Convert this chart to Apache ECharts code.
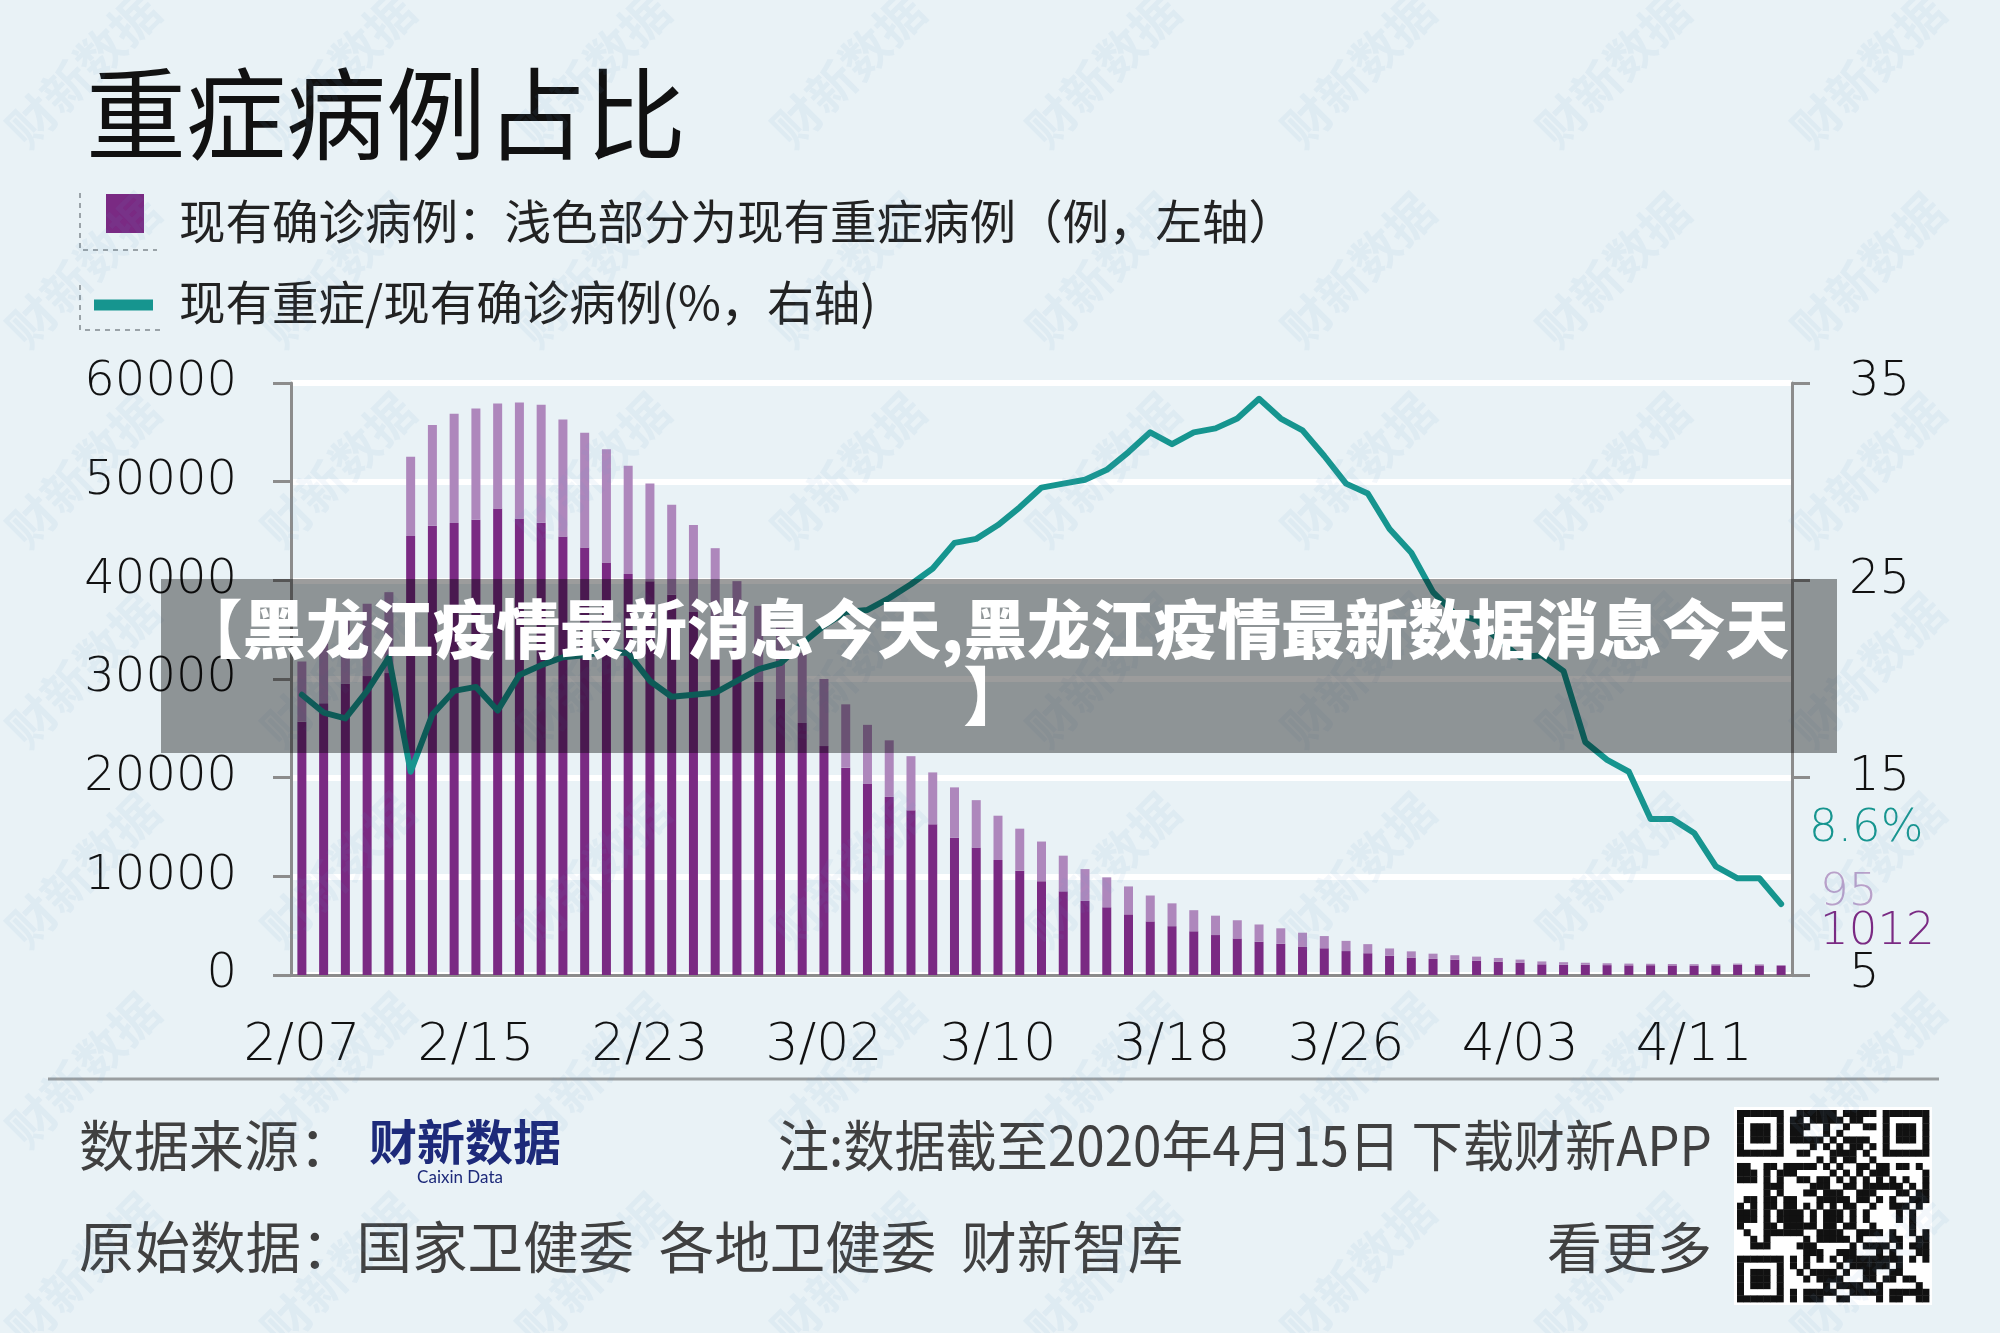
<!DOCTYPE html>
<html><head><meta charset="utf-8">
<script src="https://cdn.jsdelivr.net/npm/echarts@6/dist/echarts.min.js"></script>
<style>html,body{margin:0;padding:0;background:#e9f2f6}#c{width:2000px;height:1333px}</style>
</head><body><div id="c"></div>
<script>
// ---------- data ----------
const dates = ['2/07','2/08','2/09','2/10','2/11','2/12','2/13','2/14','2/15','2/16','2/17','2/18','2/19','2/20','2/21','2/22','2/23','2/24','2/25','2/26','2/27','2/28','2/29',
'3/01','3/02','3/03','3/04','3/05','3/06','3/07','3/08','3/09','3/10','3/11','3/12','3/13','3/14','3/15','3/16','3/17','3/18','3/19','3/20','3/21','3/22','3/23','3/24','3/25','3/26','3/27','3/28','3/29','3/30','3/31',
'4/01','4/02','4/03','4/04','4/05','4/06','4/07','4/08','4/09','4/10','4/11','4/12','4/13','4/14','4/15'];
// 现有确诊病例 (total bar height)
const confirmed = [31774,33738,35982,37626,38800,52526,55748,56873,57416,57934,
58016,57805,56303,54965,53284,51606,49824,47672,45604,43258,
39919,37414,35329,32652,30004,27433,25352,23784,22177,20533,
19016,17721,16145,14831,13526,12094,10734,9898,8976,8056,
7263,6569,6013,5549,5120,4735,4287,3947,3460,3128,
2691,2396,2161,2004,1863,1727,1562,1376,1299,1242,
1190,1156,1138,1114,1097,1089,1156,1080,1012];
// 现有重症病例 (light part)
const severe = [6101,6188,6484,7333,8204,8030,10204,11053,11272,10644,
11741,11977,11864,11633,11477,10968,9915,9126,8752,8346,
7952,7664,7365,7110,6806,6416,5952,5737,5489,5264,
5111,4794,4492,4257,4020,3610,3226,3032,2830,2622,
2314,2136,1963,1845,1749,1573,1399,1235,1034,921,
742,633,528,466,429,380,330,292,265,209,
189,177,147,144,134,114,114,107,95];
// 现有重症/现有确诊病例 (%)
const ratio = [19.2,18.3,18.0,19.4,21.1,15.3,18.2,19.4,19.6,18.4,
20.2,20.7,21.1,21.2,21.4,21.3,19.9,19.1,19.2,19.3,
19.9,20.5,20.8,21.8,22.7,23.4,23.5,24.1,24.8,25.6,
26.9,27.1,27.8,28.7,29.7,29.9,30.1,30.6,31.5,32.5,
31.9,32.5,32.7,33.2,34.2,33.2,32.6,31.3,29.9,29.4,
27.6,26.4,24.4,23.3,23.0,22.0,21.1,21.2,20.4,16.8,
15.9,15.3,12.9,12.9,12.2,10.5,9.9,9.9,8.6];
const leftTicks = [0,10000,20000,30000,40000,50000,60000];
const rightTicks = [5,15,25,35];

// ---------- styles ----------
const CJK = '"Noto Sans CJK SC","Noto Sans CJK JP",sans-serif';
const NUM = '"DejaVu Sans Light","DejaVu Sans ExtraLight","DejaVu Sans","Liberation Sans",sans-serif';
const NUMW = 200;
const AXIS = '#8c8c8c';
const DARK = '#7a2a83';
const LIGHT = '#ae87bc';
const TEAL = '#16958f';

const darkPart = confirmed.map((v,i)=>v-severe[i]);

const chart = echarts.init(document.getElementById('c'), null, {renderer:'canvas'});
const option = {
  backgroundColor:'#e9f2f6',
  animation:false,
  title:{text:'重症病例占比', left:86, top:64, padding:0,
    textStyle:{fontSize:100, fontWeight:'normal', color:'#111', fontFamily:CJK}},
  grid:{left:291, top:383, width:1501, height:592, containLabel:false},
  xAxis:{type:'category', data:dates, boundaryGap:true,
    axisLine:{lineStyle:{color:AXIS, width:3}},
    axisTick:{interval:7, length:18, lineStyle:{color:AXIS, width:3}},
    axisLabel:{interval:7, fontSize:52, color:'#111', margin:45, fontFamily:NUM, fontWeight:NUMW}},
  yAxis:[
    {type:'value', position:'left', min:leftTicks[0], max:leftTicks[leftTicks.length-1], interval:leftTicks[1]-leftTicks[0],
     axisLine:{show:true, lineStyle:{color:AXIS, width:3}},
     axisTick:{show:true, length:18, lineStyle:{color:AXIS, width:3}},
     splitLine:{show:true, lineStyle:{color:'#ffffff', width:6}},
     axisLabel:{fontSize:48, color:'#111', margin:54, fontFamily:NUM, fontWeight:NUMW, formatter:v=>String(v)}},
    {type:'value', position:'right', min:rightTicks[0], max:rightTicks[rightTicks.length-1], interval:rightTicks[1]-rightTicks[0],
     axisLine:{show:true, lineStyle:{color:AXIS, width:3}},
     axisTick:{show:true, length:18, lineStyle:{color:AXIS, width:3}},
     splitLine:{show:false},
     axisLabel:{fontSize:48, color:'#111', margin:57, fontFamily:NUM, fontWeight:NUMW, formatter:v=>String(v)}}
  ],
  series:[
    {name:'现有确诊病例', type:'bar', stack:'c', data:darkPart, barWidth:9, itemStyle:{color:DARK}, z:2},
    {name:'现有重症病例', type:'bar', stack:'c', data:severe, barWidth:9, itemStyle:{color:LIGHT}, z:2},
    {name:'现有重症/现有确诊病例', type:'line', yAxisIndex:1, data:ratio, symbol:'none', showSymbol:false,
     lineStyle:{color:TEAL, width:6, join:'round', cap:'round'}, itemStyle:{color:TEAL}, z:5}
  ]
};
chart.setOption(option);

// ---------- decorations ----------
const g = [];
// legend
g.push({type:'polyline', shape:{points:[[80,193],[80,250],[157,250]]}, style:{stroke:'#9aa3a8', lineWidth:2, lineDash:[5,5], fill:null}, z:10});
g.push({type:'rect', shape:{x:106,y:194,width:38,height:39}, style:{fill:DARK}, z:10});
g.push({type:'text', x:179, y:221, style:{text:'现有确诊病例：浅色部分为现有重症病例（例，左轴）', fill:'#222', fontSize:46.5, fontFamily:CJK, align:'left', verticalAlign:'middle'}, z:10});
g.push({type:'polyline', shape:{points:[[80,285],[80,330],[163,330]]}, style:{stroke:'#9aa3a8', lineWidth:2, lineDash:[5,5], fill:null}, z:10});
g.push({type:'line', shape:{x1:94,y1:305,x2:153,y2:305}, style:{stroke:TEAL, lineWidth:11}, z:10});
g.push({type:'text', x:179, y:302, style:{text:'现有重症/现有确诊病例(%，右轴)', fill:'#222', fontSize:46.5, fontFamily:CJK, align:'left', verticalAlign:'middle'}, z:10});

// end labels tied to the last data point
const n = dates.length;
const pL = chart.convertToPixel({xAxisIndex:0, yAxisIndex:1}, [dates[n-1], ratio[n-1]]);
const pB = chart.convertToPixel({xAxisIndex:0, yAxisIndex:0}, [dates[n-1], confirmed[n-1]]);
g.push({type:'text', x:pL[0]+28, y:pL[1]-75, style:{text:ratio[n-1].toFixed(1)+'%', fill:TEAL, fontSize:45, fontFamily:NUM, fontWeight:NUMW, align:'left', verticalAlign:'middle'}, z:10});
g.push({type:'text', x:pB[0]+39, y:pB[1]-72, style:{text:String(severe[n-1]), fill:'#b9a0c9', fontSize:45, fontFamily:NUM, fontWeight:NUMW, align:'left', verticalAlign:'middle'}, z:10});
g.push({type:'text', x:pB[0]+39, y:pB[1]-33, style:{text:String(confirmed[n-1]), fill:DARK, fontSize:45, fontFamily:NUM, fontWeight:NUMW, align:'left', verticalAlign:'middle'}, z:10});

// footer
g.push({type:'line', shape:{x1:48,y1:1079,x2:1939,y2:1079}, style:{stroke:'#9a9ea0', lineWidth:3}, z:10});
g.push({type:'text', x:79, y:1145, style:{text:'数据来源：', fill:'#404040', fontSize:55, fontFamily:CJK, align:'left', verticalAlign:'middle'}, z:10});
g.push({type:'text', x:369, y:1142, style:{text:'财新数据', fill:'#1d2a7a', fontSize:48, fontWeight:'bold', fontFamily:CJK, align:'left', verticalAlign:'middle'}, z:10});
g.push({type:'text', x:460, y:1178, style:{text:'Caixin Data', fill:'#1d2a7a', fontSize:17, fontFamily:'Lato,"Noto Sans",sans-serif', align:'center', verticalAlign:'middle'}, z:10});
g.push({type:'text', x:1712, y:1145, scaleX:0.93, style:{text:'注:数据截至2020年4月15日 下载财新APP', fill:'#404040', fontSize:55, fontFamily:CJK, align:'right', verticalAlign:'middle'}, z:10});
g.push({type:'text', x:79, y:1247, style:{text:'原始数据：国家卫健委  各地卫健委  财新智库', fill:'#404040', fontSize:55.5, fontFamily:CJK, align:'left', verticalAlign:'middle'}, z:10});
g.push({type:'text', x:1712, y:1247, style:{text:'看更多', fill:'#404040', fontSize:55, fontFamily:CJK, align:'right', verticalAlign:'middle'}, z:10});

// QR-like block (decorative)
(function(){
  const N=29, x0=1737, y0=1110, s=192/N;
  const finder=(i,j)=>{
    const inF=(a,b)=>i>=a&&i<a+7&&j>=b&&j<b+7;
    const fz=(a,b)=>i>=a-1&&i<a+8&&j>=b-1&&j<b+8;
    let zone=null;
    [[0,0],[N-7,0],[0,N-7]].forEach(([a,b])=>{ if(fz(a,b)) zone=[a,b]; });
    if(!zone) return null;
    const [a,b]=zone;
    if(!inF(a,b)) return 0;
    const di=i-a, dj=j-b;
    if(di===0||di===6||dj===0||dj===6) return 1;
    if(di>=2&&di<=4&&dj>=2&&dj<=4) return 1;
    return 0;
  };
  g.push({type:'rect', shape:{x:x0-3,y:y0-3,width:198,height:198}, style:{fill:'#ffffff'}, z:10});
  for(let i=0;i<N;i++) for(let j=0;j<N;j++){
    let d=finder(i,j);
    if(d===null) d = ((i*i*3 + j*7 + i*j*5 + (i^j)) % 7) < 4 ? 1 : 0;
    if(d) g.push({type:'rect', shape:{x:x0+i*s, y:y0+j*s, width:s+0.4, height:s+0.4}, style:{fill:'#111'}, z:11});
  }
})();

// watermarks (faint)
for(let r=0;r<7;r++) for(let c=0;c<8;c++){
  g.push({type:'text', x:83+c*255, y:70+r*200, rotation:45*Math.PI/180,
    style:{text:'财新数据', fill:'rgba(100,150,200,0.08)', fontSize:48, fontWeight:'bold', fontFamily:CJK, align:'center', verticalAlign:'middle'}, z:50});
}

// overlay banner
g.push({type:'rect', shape:{x:161,y:579,width:1676,height:174}, style:{fill:'rgba(0,0,0,0.39)'}, z:100});
g.push({type:'text', x:984, y:629, style:{text:'【黑龙江疫情最新消息今天,黑龙江疫情最新数据消息今天', fill:'#ffffff', fontSize:63.5, fontWeight:900, fontFamily:CJK, align:'center', verticalAlign:'middle'}, z:101});
g.push({type:'text', x:995, y:696, style:{text:'】', fill:'#ffffff', fontSize:63.5, fontWeight:900, fontFamily:CJK, align:'center', verticalAlign:'middle'}, z:101});

chart.setOption({graphic:{elements:g}});
</script>
</body></html>
